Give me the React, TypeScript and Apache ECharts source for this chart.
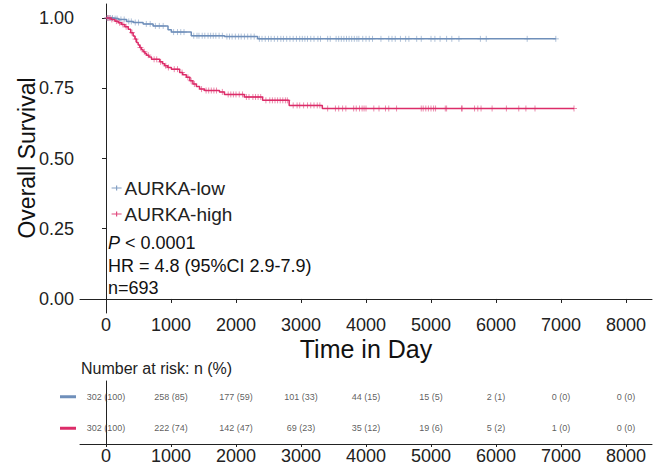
import React, { useEffect, useRef } from "react";
import * as echarts from "echarts";

const BLUE = "#6F8FBA";
const RED = "#DC2C69";
const FONT = "Liberation Sans";

const groupNames = ["AURKA-low", "AURKA-high"];

// Kaplan-Meier step estimates
const lowTimes = [0, 110, 190, 317, 420, 571, 725, 954, 1006, 1312, 1822, 2333];
const lowSurv = [1, 0.998, 0.995, 0.988, 0.984, 0.979, 0.972, 0.958, 0.95, 0.937, 0.934, 0.926];
const lowEnd = 6920;
const lowCensor = [15, 40, 70, 100, 140, 170, 230, 280, 350, 390, 450, 500, 620, 680, 760, 820, 880, 1040, 1100, 1150, 1200, 1350, 1400, 1430, 1480, 1520, 1570, 1610, 1650, 1690, 1740, 1790, 1860, 1900, 1940, 1990, 2040, 2080, 2130, 2180, 2230, 2280, 2360, 2400, 2450, 2500, 2540, 2590, 2640, 2690, 2730, 2780, 2830, 2880, 2930, 2980, 3020, 3060, 3100, 3150, 3200, 3260, 3300, 3410, 3450, 3540, 3580, 3620, 3660, 3700, 3740, 3780, 3820, 3860, 3890, 3950, 4000, 4050, 4100, 4230, 4350, 4400, 4450, 4530, 4610, 4660, 4780, 4850, 5000, 5060, 5140, 5240, 5320, 5430, 5760, 5850, 6480, 6920];

const highTimes = [0, 80, 138, 190, 240, 290, 342, 380, 418, 445, 470, 495, 520, 546, 571, 600, 623, 660, 700, 827, 870, 903, 950, 1006, 1133, 1180, 1236, 1290, 1337, 1390, 1440, 1516, 1746, 1822, 2129, 2409, 2818, 3328];
const highSurv = [1, 0.995, 0.989, 0.983, 0.977, 0.969, 0.96, 0.948, 0.936, 0.925, 0.913, 0.904, 0.895, 0.887, 0.88, 0.874, 0.868, 0.861, 0.853, 0.844, 0.837, 0.83, 0.824, 0.818, 0.806, 0.798, 0.789, 0.777, 0.765, 0.756, 0.747, 0.742, 0.737, 0.728, 0.719, 0.707, 0.689, 0.678];
const highEnd = 7200;
const highCensor = [20, 50, 90, 160, 210, 260, 310, 400, 455, 530, 590, 650, 740, 780, 840, 920, 960, 1050, 1100, 1170, 1260, 1310, 1360, 1470, 1540, 1580, 1620, 1660, 1700, 1790, 1880, 1920, 1960, 2000, 2050, 2100, 2160, 2200, 2260, 2300, 2340, 2380, 2460, 2520, 2560, 2600, 2640, 2680, 2720, 2760, 2790, 2880, 2940, 2980, 3040, 3100, 3150, 3200, 3250, 3290, 3410, 3530, 3580, 3640, 3690, 3810, 3850, 3900, 3940, 3970, 4000, 4120, 4200, 4300, 4350, 4470, 4850, 4880, 4920, 4960, 5000, 5040, 5070, 5220, 5240, 5470, 5480, 5670, 5720, 5770, 5940, 6160, 6350, 6460, 6600, 7200];

// ticks
const xTicks = [0, 1000, 2000, 3000, 4000, 5000, 6000, 7000, 8000];
const yTicks = [0, 0.25, 0.5, 0.75, 1];

// number at risk
const riskLowN = [302, 258, 177, 101, 44, 15, 2, 0, 0];
const riskLowP = [100, 85, 59, 33, 15, 5, 1, 0, 0];
const riskHighN = [302, 222, 142, 69, 35, 19, 5, 1, 0];
const riskHighP = [100, 74, 47, 23, 12, 6, 2, 0, 0];

const annotations = ["{i|P} < 0.0001", "HR = 4.8 (95%CI 2.9-7.9)", "n=693"];

function survAt(times: number[], surv: number[], t: number) {
  let s = surv[0];
  for (let i = 0; i < times.length; i++) if (times[i] <= t) s = surv[i];
  return s;
}

function curve(times: number[], surv: number[], end: number) {
  const d = times.map((t, i) => [t, surv[i]]);
  d.push([end, surv[surv.length - 1]]);
  return d;
}

const PLUS = "path://M5,0 L5,10 M0,5 L10,5";
const KEY = "path://M0,5 L10,5 M5,2.5 L5,7.5";

export default function App() {
  const ref = useRef<HTMLDivElement>(null);
  useEffect(() => {
    if (!ref.current) return;
    const chart = echarts.init(ref.current, null, { renderer: "svg" });
    const axisCol = "#222";
    const option: any = {
      animation: false,
      textStyle: { fontFamily: FONT },
      grid: [
        { left: 80, top: 4, width: 572, height: 309 },
        { left: 80, top: 381, width: 572, height: 63 },
      ],
      xAxis: [
        {
          type: "value", gridIndex: 0, min: -400, max: 8400,
          axisLine: { show: true, lineStyle: { color: axisCol, width: 1 } },
          axisTick: { show: true, customValues: xTicks, length: 4, lineStyle: { color: axisCol } },
          axisLabel: { customValues: xTicks, fontSize: 18, color: axisCol, margin: 3, fontFamily: FONT, formatter: (v: number) => String(v) },
          splitLine: { show: false },
        },
        {
          type: "value", gridIndex: 1, min: -400, max: 8400,
          axisLine: { show: true, lineStyle: { color: axisCol, width: 1 } },
          axisTick: { show: true, customValues: xTicks, length: 3, lineStyle: { color: axisCol } },
          axisLabel: { customValues: xTicks, fontSize: 18, color: axisCol, margin: 3, fontFamily: FONT, formatter: (v: number) => String(v) },
          splitLine: { show: false },
        },
      ],
      yAxis: [
        {
          type: "value", gridIndex: 0, min: -0.05, max: 1.05,
          axisLine: { show: true, lineStyle: { color: axisCol, width: 1 } },
          axisTick: { show: true, customValues: yTicks, length: 4, lineStyle: { color: axisCol } },
          axisLabel: { customValues: yTicks, fontSize: 18, color: axisCol, margin: 6, fontFamily: FONT, formatter: (v: number) => v.toFixed(2) },
          splitLine: { show: false },
        },
        {
          type: "category", gridIndex: 1, data: ["AURKA-high", "AURKA-low"],
          axisLine: { show: true, lineStyle: { color: axisCol, width: 1 } },
          axisTick: { show: false },
          axisLabel: {
            margin: 4,
            formatter: (v: string) => (v === "AURKA-low" ? "{low|}" : "{high|}"),
            rich: {
              low: { width: 16, height: 3, backgroundColor: BLUE },
              high: { width: 16, height: 3, backgroundColor: RED },
            },
          },
          splitLine: { show: false },
        },
      ],
      legend: {
        orient: "vertical", left: 106, top: 173,
        itemWidth: 10, itemHeight: 7, itemGap: 6,
        textStyle: { fontSize: 19, color: "#222", fontFamily: FONT, lineHeight: 20, padding: [0, 0, 0, -2] },
        data: [
          { name: groupNames[0], icon: KEY, itemStyle: { color: "transparent", borderColor: BLUE, borderWidth: 1.2, opacity: 0.85 } },
          { name: groupNames[1], icon: KEY, itemStyle: { color: "transparent", borderColor: RED, borderWidth: 1.2, opacity: 0.85 } },
        ],
      },
      series: [
        {
          name: groupNames[0], type: "scatter", xAxisIndex: 0, yAxisIndex: 0,
          symbol: PLUS, symbolSize: 6,
          itemStyle: { color: "transparent", borderColor: BLUE, borderWidth: 1, opacity: 0.55 },
          data: lowCensor.map((t) => [t, survAt(lowTimes, lowSurv, t)]),
        },
        {
          name: groupNames[1], type: "scatter", xAxisIndex: 0, yAxisIndex: 0,
          symbol: PLUS, symbolSize: 6,
          itemStyle: { color: "transparent", borderColor: RED, borderWidth: 1, opacity: 0.55 },
          data: highCensor.map((t) => [t, survAt(highTimes, highSurv, t)]),
        },
        {
          name: groupNames[0], type: "line", step: "end", showSymbol: false, xAxisIndex: 0, yAxisIndex: 0,
          lineStyle: { color: BLUE, width: 1.5 }, itemStyle: { color: BLUE },
          data: curve(lowTimes, lowSurv, lowEnd),
        },
        {
          name: groupNames[1], type: "line", step: "end", showSymbol: false, xAxisIndex: 0, yAxisIndex: 0,
          lineStyle: { color: RED, width: 1.5 }, itemStyle: { color: RED },
          data: curve(highTimes, highSurv, highEnd),
        },
        {
          type: "scatter", xAxisIndex: 1, yAxisIndex: 1, symbolSize: 1,
          itemStyle: { color: "transparent" },
          label: { show: true, position: "inside", fontSize: 9, color: "#333", fontFamily: FONT, formatter: (p: any) => p.value[2] },
          data: [
            ...xTicks.map((t, i) => [t, "AURKA-low", `${riskLowN[i]} (${riskLowP[i]})`]),
            ...xTicks.map((t, i) => [t, "AURKA-high", `${riskHighN[i]} (${riskHighP[i]})`]),
          ],
        },
      ],
      graphic: [
        {
          type: "text", x: 27, y: 158, rotation: Math.PI / 2,
          style: { text: "Overall Survival", fontSize: 23, fontFamily: FONT, fill: "#111", textAlign: "center", textVerticalAlign: "middle" },
        },
        {
          type: "text", x: 366, y: 349,
          style: { text: "Time in Day", fontSize: 25, fontFamily: FONT, fill: "#111", textAlign: "center", textVerticalAlign: "middle" },
        },
        {
          type: "text", x: 81, y: 368,
          style: { text: "Number at risk: n (%)", fontSize: 16, fontFamily: FONT, fill: "#222", textAlign: "left", textVerticalAlign: "middle" },
        },
        ...annotations.map((a, i) => ({
          type: "text", x: 108, y: 243 + i * 22.5,
          style: {
            text: a, fontSize: 18, fontFamily: FONT, fill: "#111", textAlign: "left", textVerticalAlign: "middle",
            rich: { i: { fontStyle: "italic", fontSize: 18, fontFamily: FONT, fill: "#111" } },
          },
        })),
      ],
    };
    chart.setOption(option);
    return () => chart.dispose();
  }, []);
  return <div ref={ref} style={{ position: "fixed", left: 0, top: 0, width: 667, height: 465, background: "#fff" }} />;
}
